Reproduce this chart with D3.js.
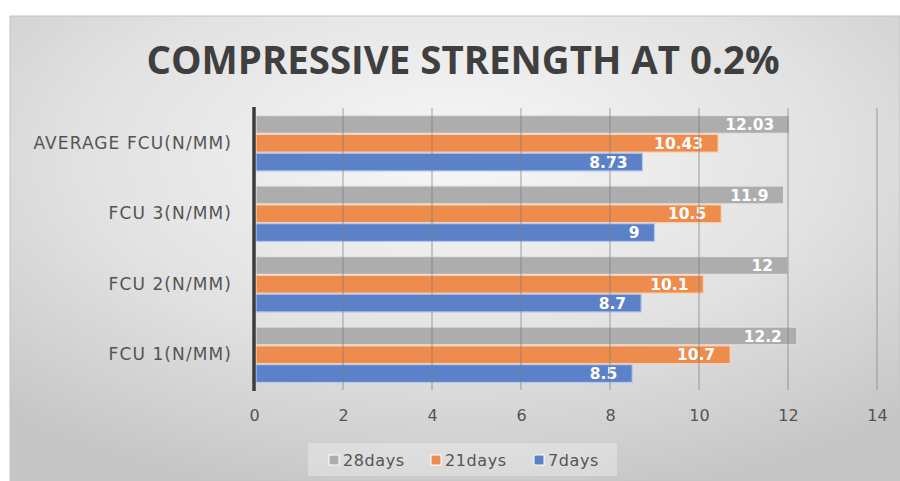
<!DOCTYPE html>
<html>
<head>
<meta charset="utf-8">
<script src="https://cdn.jsdelivr.net/npm/d3@7"></script>
<style>
  html, body { margin: 0; padding: 0; background: #ffffff; }
  svg { display: block; }
</style>
</head>
<body>
<svg id="chart" width="900" height="481"></svg>
<script>
// Categories, top to bottom
const categories = ["AVERAGE FCU(N/MM)", "FCU 3(N/MM)", "FCU 2(N/MM)", "FCU 1(N/MM)"];
// Series, in the order they appear inside each group (top to bottom)
const seriesNames = ["28days", "21days", "7days"];
const days28 = [12.03, 11.9, 12, 12.2];
const days21 = [10.43, 10.5, 10.1, 10.7];
const days7  = [8.73, 9, 8.7, 8.5];
const xTicks = [0, 2, 4, 6, 8, 10, 12, 14];
const seriesColors = ["#adadad", "#ed8c4c", "#5b81c9"];
const seriesEdges  = ["#e2e2e2", "#fbd2b6", "#b5c9ee"];

const seriesValues = [days28, days21, days7];

const svg = d3.select("#chart");

// Background panel with a soft radial shading
const defs = svg.append("defs");
const grad = defs.append("radialGradient")
  .attr("id", "panelBg")
  .attr("cx", "0.5").attr("cy", "0.3").attr("r", "0.75")
  .attr("gradientUnits", "objectBoundingBox");
grad.append("stop").attr("offset", "0").attr("stop-color", "#f7f7f7");
grad.append("stop").attr("offset", "0.55").attr("stop-color", "#e2e2e2");
grad.append("stop").attr("offset", "1").attr("stop-color", "#c6c6c6");

svg.append("rect")
  .attr("x", 10).attr("y", 16).attr("width", 890).attr("height", 465)
  .attr("fill", "url(#panelBg)")
  .attr("stroke", "#c4c4c4").attr("stroke-width", 1);

// Title
svg.append("text")
  .attr("x", 463).attr("y", 74)
  .attr("text-anchor", "middle")
  .attr("font-family", "'Open Sans', 'Liberation Sans', sans-serif")
  .attr("font-weight", "bold")
  .attr("font-size", 40)
  .attr("fill", "#3f3f3f")
  .attr("textLength", 633)
  .attr("lengthAdjust", "spacingAndGlyphs")
  .text("COMPRESSIVE STRENGTH AT 0.2%");

// Scales
const x = d3.scaleLinear().domain([0, 14]).range([254, 877]);
const y = d3.scaleBand().domain(categories).range([108, 390]).paddingInner(0.2).paddingOuter(0.1);
const ySub = d3.scaleBand().domain(seriesNames).range([0, y.bandwidth()]).padding(0);

// Bars
const rows = [];
categories.forEach((c, ci) => {
  seriesNames.forEach((s, si) => {
    rows.push({ cat: c, series: s, si: si, value: seriesValues[si][ci] });
  });
});

const bars = svg.append("g").attr("class", "bars");
bars.selectAll("rect")
  .data(rows)
  .join("rect")
  .attr("x", x(0) + 2)
  .attr("y", d => y(d.cat) + ySub(d.series) + 0.5)
  .attr("width", d => x(d.value) - x(0) - 2)
  .attr("height", ySub.bandwidth() - 1)
  .attr("fill", d => seriesColors[d.si])
  .attr("stroke", d => seriesEdges[d.si])
  .attr("stroke-width", 1.2);

// Vertical gridlines, drawn over the bars
svg.append("g").attr("class", "grid")
  .selectAll("line")
  .data(xTicks.filter(t => t > 0))
  .join("line")
  .attr("x1", d => x(d)).attr("x2", d => x(d))
  .attr("y1", 108).attr("y2", 390)
  .attr("stroke", "#7a7a7a")
  .attr("stroke-opacity", 0.35)
  .attr("stroke-width", 2);

// Value labels inside the bar ends
bars.selectAll("text")
  .data(rows)
  .join("text")
  .attr("x", d => x(d.value) - 15)
  .attr("y", d => y(d.cat) + ySub(d.series) + ySub.bandwidth() / 2)
  .attr("dy", "0.36em")
  .attr("text-anchor", "end")
  .attr("font-family", "'DejaVu Sans', sans-serif")
  .attr("font-weight", "bold")
  .attr("font-size", 15.5)
  .attr("fill", "#ffffff")
  .text(d => d.value);

// Category axis line at zero
svg.append("line")
  .attr("x1", x(0)).attr("x2", x(0))
  .attr("y1", 107).attr("y2", 391)
  .attr("stroke", "#3c3c3c")
  .attr("stroke-width", 3.5);

// Category labels
const yAxis = svg.append("g")
  .attr("transform", `translate(${x(0) - 22},0)`)
  .call(d3.axisLeft(y).tickSize(0).tickPadding(0));
yAxis.select(".domain").remove();
yAxis.selectAll("text")
  .attr("font-family", "'DejaVu Sans', sans-serif")
  .attr("font-size", 17)
  .attr("letter-spacing", 1.1)
  .attr("fill", "#545454");

// Value axis tick labels
const xAxis = svg.append("g")
  .attr("transform", "translate(0,404)")
  .call(d3.axisBottom(x).tickValues(xTicks).tickSize(0).tickPadding(6).tickFormat(d3.format("d")));
xAxis.select(".domain").remove();
xAxis.selectAll("text")
  .attr("font-family", "'DejaVu Sans', sans-serif")
  .attr("font-size", 16)
  .attr("fill", "#545454");

// Legend
const legend = svg.append("g").attr("class", "legend");
legend.append("rect")
  .attr("x", 308).attr("y", 443).attr("width", 309).attr("height", 33)
  .attr("fill", "#ffffff").attr("fill-opacity", 0.3);
const legendX = [329, 431, 534];
const items = legend.selectAll("g.item")
  .data(seriesNames)
  .join("g")
  .attr("class", "item")
  .attr("transform", (d, i) => `translate(${legendX[i]},460)`);
items.append("rect")
  .attr("x", 0).attr("y", -5).attr("width", 10).attr("height", 10)
  .attr("fill", (d, i) => seriesColors[i])
  .attr("stroke", "#ffffff").attr("stroke-width", 1);
items.append("text")
  .attr("x", 14).attr("y", 0).attr("dy", "0.36em")
  .attr("font-family", "'DejaVu Sans', sans-serif")
  .attr("font-size", 16)
  .attr("letter-spacing", 0.6)
  .attr("fill", "#545454")
  .text(d => d);
</script>
</body>
</html>
